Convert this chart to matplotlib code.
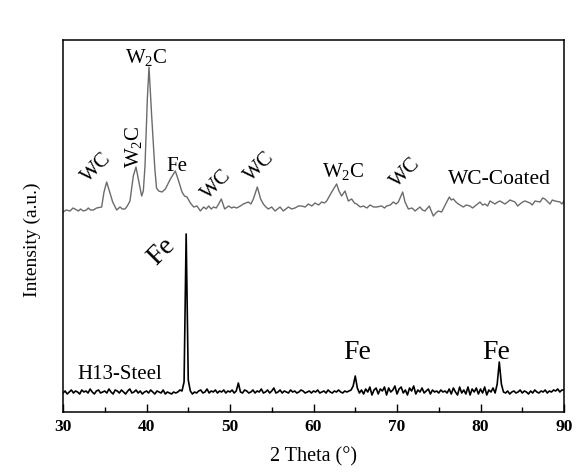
import numpy as np
import matplotlib
matplotlib.use("Agg")
import matplotlib.pyplot as plt
from matplotlib.ticker import MultipleLocator

plt.rcParams["font.family"] = ["Liberation Serif", "DejaVu Serif"]
plt.rcParams["mathtext.fontset"] = "custom"
plt.rcParams["mathtext.rm"] = "Liberation Serif"
plt.rcParams["mathtext.it"] = "Liberation Serif:italic"

# ---- WC-coated pattern (offset upward for stacking) ----
coated_theta = [
    30.0, 30.4, 30.84, 31.2, 31.44, 31.84, 32.1, 32.44, 32.8, 33.03,
    33.3, 33.63, 34.03, 34.63, 34.91, 35.23, 35.55, 35.95, 36.43, 36.83,
    37.1, 37.43, 37.7, 38.02, 38.42, 38.74, 39.02, 39.42, 39.62, 39.82,
    40.1, 40.3, 40.62, 41.0, 41.2, 41.46, 41.86, 42.26, 42.86, 43.45,
    43.85, 44.25, 44.55, 44.85, 45.25, 45.65, 46.05, 46.45, 46.85, 47.15,
    47.45, 47.75, 48.04, 48.35, 48.64, 48.96, 49.36, 49.84, 50.2, 50.44,
    50.8, 51.24, 51.6, 52.2, 52.5, 52.8, 53.27, 53.67, 53.99, 54.3,
    54.59, 54.99, 55.39, 55.7, 55.99, 56.39, 56.7, 56.99, 57.4, 57.78,
    58.2, 58.58, 59.0, 59.38, 59.8, 60.18, 60.6, 60.98, 61.3, 61.58,
    62.18, 62.77, 63.05, 63.37, 63.77, 64.17, 64.57, 64.9, 65.17, 65.6,
    65.97, 66.4, 66.77, 67.2, 67.57, 68.16, 68.5, 68.76, 69.2, 69.56,
    69.9, 70.16, 70.68, 70.96, 71.36, 71.8, 72.16, 72.45, 72.75, 73.05,
    73.35, 73.87, 74.1, 74.35, 74.65, 74.95, 75.35, 75.95, 76.27, 76.5,
    76.75, 77.05, 77.35, 77.94, 78.3, 78.74, 79.05, 79.34, 79.94, 80.25,
    80.54, 80.85, 81.14, 81.74, 82.05, 82.33, 82.93, 83.25, 83.53, 84.13,
    84.45, 84.73, 85.05, 85.33, 85.93, 86.2, 86.53, 87.13, 87.45, 87.72,
    88.32, 88.6, 88.92, 89.52, 89.75, 90.0,
]
coated_intensity = [
    200, 202, 201, 204, 203, 201, 203, 201, 202, 204,
    202, 202, 204, 205, 220, 230, 221, 210, 202, 205,
    203, 203, 206, 211, 236, 245, 233, 216, 221, 246,
    313, 345, 296, 243, 224, 221, 220, 223, 233, 241,
    231, 220, 216, 215, 209, 205, 206, 201, 205, 203,
    206, 203, 205, 204, 208, 213, 203, 206, 204, 205,
    204, 206, 208, 210, 208, 213, 225, 213, 208, 205,
    203, 205, 201, 203, 205, 201, 203, 205, 203, 204,
    206, 206, 205, 208, 206, 209, 207, 210, 209, 211,
    220, 228, 221, 216, 221, 211, 213, 209, 208, 205,
    206, 204, 207, 205, 205, 206, 204, 206, 207, 210,
    208, 210, 220, 210, 203, 204, 201, 203, 205, 202,
    201, 206, 201, 196, 199, 201, 200, 210, 215, 212,
    213, 210, 208, 205, 207, 206, 204, 206, 210, 207,
    208, 206, 211, 208, 210, 211, 208, 210, 212, 210,
    206, 208, 210, 211, 209, 207, 211, 210, 214, 213,
    208, 212, 211, 210, 208, 211,
]

# ---- H13 steel substrate pattern, sampled every 0.25 deg from 30 to 90 ----
steel_step = 0.25
steel_intensity = [
    19, 21, 18, 20, 22, 19, 21, 20, 18, 22, 20, 21, 19, 23, 20, 18, 21, 22, 19, 20,
    21, 19, 23, 20, 18, 22, 21, 19, 22, 20, 18, 21, 23, 19, 20, 22, 19, 21, 18, 20,
    21, 19, 22, 20, 18, 21, 20, 19, 22, 18, 20, 19, 18, 20, 19, 20, 22, 21, 30, 178,
    32, 21, 18, 20, 19, 21, 22, 19, 20, 23, 19, 21, 20, 22, 19, 21, 20, 22, 19, 21,
    20, 22, 19, 21, 29, 20, 19, 22, 21, 19, 20, 22, 19, 21, 20, 23, 19, 20, 22, 19,
    21, 24, 19, 20, 22, 19, 21, 20, 19, 22, 20, 21, 19, 20, 22, 21, 19, 20, 21, 19,
    21, 20, 22, 19, 20, 21, 19, 22, 20, 19, 21, 20, 22, 20, 19, 21, 20, 21, 22, 26,
    36, 24, 19, 22, 18, 23, 20, 25, 17, 22, 24, 18, 23, 21, 25, 17, 24, 20, 22, 26,
    18, 23, 25, 19, 22, 17, 24, 21, 26, 18, 22, 20, 24, 19, 21, 23, 18, 22, 20, 21,
    19, 22, 20, 21, 19, 23, 18, 24, 20, 17, 25, 19, 22, 18, 25, 17, 23, 20, 24, 18,
    23, 19, 25, 17, 22, 20, 24, 19, 28, 50, 28, 20, 19, 21, 18, 20, 21, 19, 20, 22,
    19, 21, 20, 18, 21, 19, 22, 20, 19, 21, 20, 22, 19, 21, 20, 22, 21, 23, 20, 22,
    22,
]
steel_theta = 30 + steel_step * np.arange(len(steel_intensity))

x_ticks = [30, 40, 50, 60, 70, 80, 90]

fig = plt.figure(figsize=(5.81, 4.77), dpi=100)
ax = fig.add_axes([63 / 581, 64 / 477, 501 / 581, 372 / 477])

ax.plot(coated_theta, coated_intensity, color="#6b6b6b", lw=1.0)
ax.plot(steel_theta, steel_intensity, color="black", lw=1.2)

ax.set_xlim(30, 90)
ax.set_ylim(0, 372)
ax.set_xticks(x_ticks)
ax.xaxis.set_minor_locator(MultipleLocator(5))
ax.set_yticks([])
ax.tick_params(axis="x", which="major", direction="in", length=6, width=1,
               top=False, labelsize=12.5, pad=4)
ax.tick_params(axis="x", which="minor", direction="in", length=3.5, width=1,
               top=False)
for lbl in ax.get_xticklabels():
    lbl.set_fontweight("bold")
for sp in ax.spines.values():
    sp.set_linewidth(1.1)

ax.set_xlabel("2 Theta (\u00b0)", fontsize=14.5, labelpad=9)
ax.set_ylabel("Intensity (a.u.)", fontsize=14)
ax.yaxis.set_label_coords(-0.043, 0.465)

# phase labels on the coated pattern
lab = dict(ha="center", va="center", rotation_mode="anchor", fontsize=15)
ax.text(40.0, 355, "W$_2$C", **lab)
ax.text(34.0, 245, "WC", rotation=45, **lab)
ax.text(38.5, 266, "W$_2$C", rotation=90, **lab)
ax.text(43.6, 246, "Fe", **lab)
ax.text(48.4, 228, "WC", rotation=45, **lab)
ax.text(53.5, 246, "WC", rotation=45, **lab)
ax.text(63.6, 241, "W$_2$C", **lab)
ax.text(71.0, 240, "WC", rotation=45, **lab)
ax.text(82.3, 233, "WC-Coated", ha="center", va="center", fontsize=15.5)

# phase labels on the steel pattern
ax.text(41.8, 161, "Fe", rotation=45, ha="center", va="center",
        rotation_mode="anchor", fontsize=20)
ax.text(65.2, 60, "Fe", ha="center", va="center", fontsize=20)
ax.text(81.9, 60, "Fe", ha="center", va="center", fontsize=20)
ax.text(36.8, 38, "H13-Steel", ha="center", va="center", fontsize=15)

fig.savefig("out.png", dpi=100)
